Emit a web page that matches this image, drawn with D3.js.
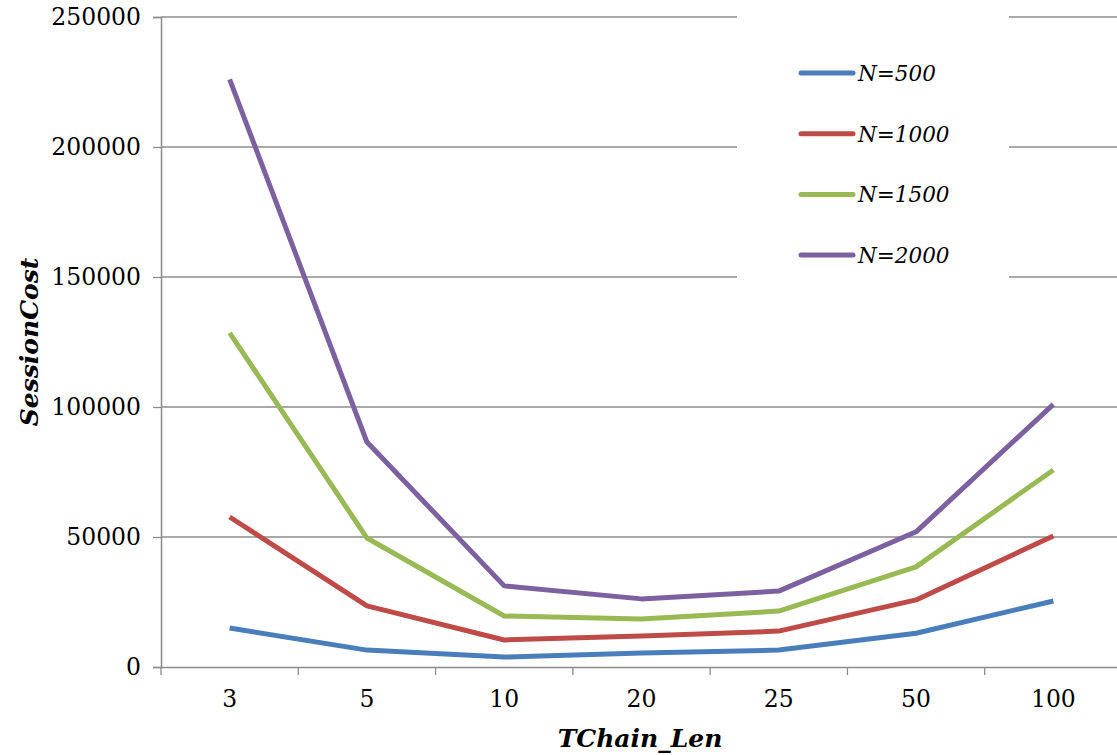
<!DOCTYPE html>
<html><head><meta charset="utf-8">
<script src="https://cdn.jsdelivr.net/npm/d3@7"></script>
<style>body{margin:0;background:#fff}svg{display:block}</style>
</head><body><svg id="c" width="1117" height="755"></svg>
<script>
const categories = ["3","5","10","20","25","50","100"];
const seriesNames = ["N=500","N=1000","N=1500","N=2000"];
const n500  = [15000, 6500, 3800, 5400, 6500, 13000, 25400];
const n1000 = [57700, 23500, 10400, 11900, 13800, 25800, 50400];
const n1500 = [128500, 49600, 19600, 18500, 21500, 38500, 75800];
const n2000 = [226000, 86500, 31200, 26200, 29200, 52000, 101000];
const yTicks = [0, 50000, 100000, 150000, 200000, 250000];
const colors = ["#4a7ebb","#be4b48","#98b954","#7d60a0"];
const allSeries = [n500, n1000, n1500, n2000];

(function(){
const svg = d3.select("#c");
const pL = 161, pR = 1122, pT = 17, pB = 667;
const x = d3.scaleBand().domain(categories).range([pL, pR]);
const y = d3.scaleLinear().domain([0, 250000]).range([pB, pT]);
const font = "'DejaVu Serif', serif";

// gridlines
svg.append("g").selectAll("line").data(yTicks.filter(d=>d>0)).join("line")
  .attr("x1", pL).attr("x2", 1117).attr("y1", d=>y(d)).attr("y2", d=>y(d))
  .attr("stroke", "#8c8c8c").attr("stroke-width", 1.3);

// y axis
const ya = svg.append("g").attr("transform", `translate(${pL},0)`)
  .call(d3.axisLeft(y).tickValues(yTicks).tickSize(8).tickPadding(12).tickFormat(d3.format("d")));
ya.select(".domain").attr("stroke", "#8c8c8c").attr("stroke-width", 1.5);
ya.selectAll(".tick line").attr("stroke", "#8c8c8c").attr("stroke-width", 1.3);
ya.selectAll("text").attr("font-family", font).attr("font-size", 23.5).attr("fill", "#000");

// x axis
const xa = svg.append("g").attr("transform", `translate(0,${pB})`)
  .call(d3.axisBottom(x).tickSize(0).tickPadding(23));
xa.select(".domain").attr("stroke", "#8c8c8c").attr("stroke-width", 1.5);
xa.selectAll("text").attr("font-family", font).attr("font-size", 23.5).attr("fill", "#000");
const bounds = categories.map(c => x(c)).concat([pR]);
svg.append("g").selectAll("line").data(bounds).join("line")
  .attr("x1", d=>d).attr("x2", d=>d).attr("y1", pB).attr("y2", pB+8)
  .attr("stroke", "#8c8c8c").attr("stroke-width", 1.3);

// legend background
svg.append("rect").attr("x", 737).attr("y", 8).attr("width", 272).attr("height", 282).attr("fill", "#fff");

// lines
const line = d3.line().x((d,i)=>x(categories[i]) + x.bandwidth()/2).y(d=>y(d));
allSeries.forEach((s, i) => {
  svg.append("path").datum(s).attr("d", line).attr("fill", "none")
    .attr("stroke", colors[i]).attr("stroke-width", 5).attr("stroke-linejoin", "round");
});

// legend
const lg = svg.append("g");
seriesNames.forEach((nm, i) => {
  const yy = 73 + i * 60.7;
  lg.append("line").attr("x1", 801).attr("x2", 853).attr("y1", yy).attr("y2", yy)
    .attr("stroke", colors[i]).attr("stroke-width", 5).attr("stroke-linecap", "round");
  lg.append("text").attr("x", 858).attr("y", yy + 8).text(nm)
    .attr("font-family", font).attr("font-style", "italic").attr("font-size", 21.5).attr("fill", "#000");
});

// titles
svg.append("text").attr("x", 640).attr("y", 747).attr("text-anchor", "middle")
  .attr("font-family", font).attr("font-style", "italic").attr("font-weight", "bold")
  .attr("font-size", 25).text("TChain_Len");
svg.append("text").attr("transform", "translate(38,342) rotate(-90)").attr("text-anchor", "middle")
  .attr("font-family", font).attr("font-style", "italic").attr("font-weight", "bold")
  .attr("font-size", 25).text("SessionCost");
})();
</script></body></html>
